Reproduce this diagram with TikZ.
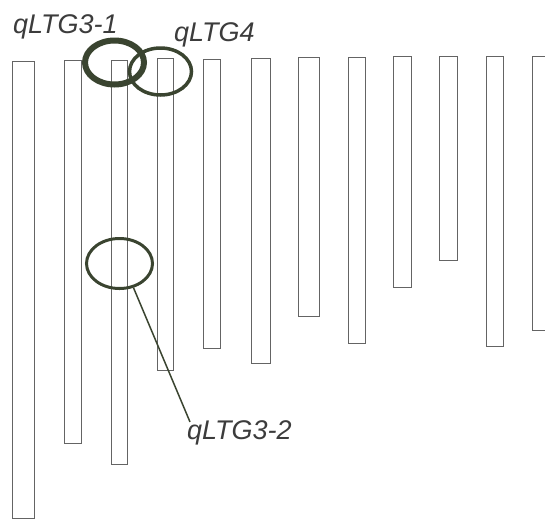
\documentclass[tikz,border=0pt]{standalone}
\usepackage{fontspec}
\setmainfont{Liberation Sans}
\usetikzlibrary{shapes.geometric}
\definecolor{ringcol}{RGB}{58,68,48}
\definecolor{barcol}{RGB}{100,100,100}
\definecolor{labcol}{RGB}{60,60,60}
\tikzset{
    chrom/.style={draw=barcol, line width=0.9pt},
    ring/.style={ellipse, draw=ringcol, inner sep=0pt},
    qtl/.style={text=labcol, inner sep=0pt, font=\itshape\fontsize{27}{31}\selectfont}
}
\begin{document}
\begin{tikzpicture}[x=1pt, y=-1pt]
            \useasboundingbox (0,0) rectangle (545,520);
            \clip (0,0) rectangle (545,520);
            % chromosomes
            \draw[chrom] (12,61) rectangle (34,518);
            \draw[chrom] (64,60) rectangle (81,443);
            \draw[chrom] (111,60) rectangle (127,464);
            \draw[chrom] (157,58) rectangle (173,370);
            \draw[chrom] (203,59) rectangle (220,348);
            \draw[chrom] (251,58) rectangle (270,363);
            \draw[chrom] (298,57) rectangle (319,316);
            \draw[chrom] (348,57) rectangle (365,343);
            \draw[chrom] (393,56) rectangle (411,287);
            \draw[chrom] (439,56) rectangle (457,260);
            \draw[chrom] (486,56) rectangle (503,346);
            \draw[chrom] (532,56) rectangle (550,330);
            % qtl rings
            \node[ring, line width=6pt, minimum width=59pt, minimum height=44pt] (r31) at (114.5,62.5) {};
            \node[ring, line width=3.5pt, minimum width=62pt, minimum height=47pt] (r4) at (160.5,71.5) {};
            \node[ring, line width=3pt, minimum width=66pt, minimum height=50pt] (r32) at (119.5,263.5) {};
            % labels
            \node[qtl, anchor=base west] (l31) at (13,33) {qLTG3-1};
            \node[qtl, anchor=base west] (l4) at (174,41) {qLTG4};
            \node[qtl, anchor=base west] (l32) at (187,439) {qLTG3-2};
            \draw[ringcol, line width=1.5pt] (r32.-60) -- ([shift={(3pt,-2pt)}]l32.north west);
        \end{tikzpicture}
\end{document}
